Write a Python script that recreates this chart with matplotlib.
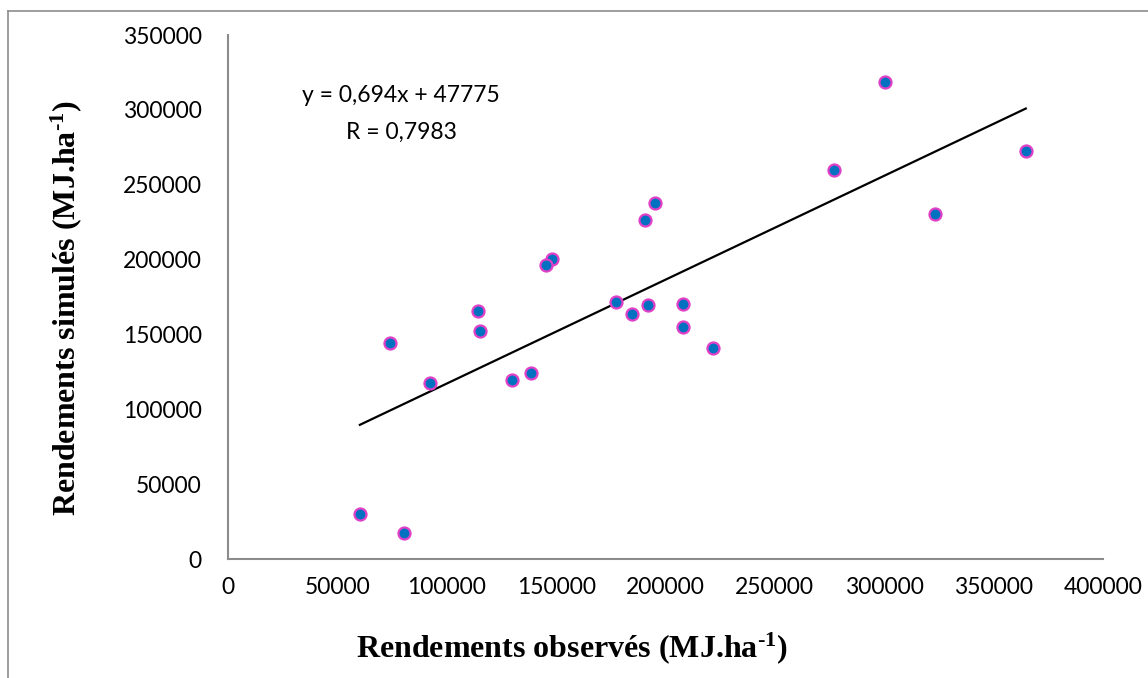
import matplotlib
matplotlib.use("Agg")
import matplotlib.pyplot as plt
from matplotlib.lines import Line2D
import numpy as np

# Data (observed vs simulated yields, MJ/ha)
observed = [60300, 80600, 92300, 74100, 114300, 115300, 148300, 145400, 195300,
            190600, 177400, 184700, 192100, 208000, 208000, 221600, 138500, 130000,
            300300, 277200, 323300, 364700]
simulated = [30300, 17400, 117400, 144500, 165400, 152300, 200200, 196600, 237800,
             226600, 171900, 163800, 169500, 170300, 155000, 141100, 124400, 119600,
             318800, 259800, 230400, 272700]
slope = 0.694
intercept = 47775
eq_text = "y = 0,694x + 47775"
r_text = "R = 0,7983"
x_ticks = [0, 50000, 100000, 150000, 200000, 250000, 300000, 350000, 400000]
y_ticks = [0, 50000, 100000, 150000, 200000, 250000, 300000, 350000]
x_label = r'Rendements observés (MJ.ha$^{\text{-}1}$)'
y_label = r'Rendements simulés (MJ.ha$^{\text{-}1}$)'

plt.rcParams['mathtext.fontset'] = 'custom'
plt.rcParams['mathtext.bf'] = 'Liberation Serif:bold'
plt.rcParams['mathtext.rm'] = 'Liberation Serif:bold'
plt.rcParams['mathtext.default'] = 'bf'

W, H = 1148, 678
fig = plt.figure(figsize=(W/100, H/100), dpi=100)
ax = fig.add_axes([228/W, 1-559/H, (1103-228)/W, (559-35)/H])

ax.scatter(observed, simulated, s=75, c='#0070C0', edgecolors='#E040C8',
           linewidths=1.6, zorder=3)
xs = np.array([min(observed), max(observed)])
ax.plot(xs, slope*xs + intercept, color='black', lw=1.6, zorder=2)

ax.set_xlim(0, 400000)
ax.set_ylim(0, 350000)
ax.set_xticks(x_ticks)
ax.set_yticks(y_ticks)
ax.set_xticklabels([str(t) for t in x_ticks], fontname='Lato', fontsize=16.5)
ax.set_yticklabels([str(t) for t in y_ticks], fontname='Lato', fontsize=16.5)
ax.tick_params(axis='both', length=0, colors='#000000')
ax.tick_params(axis='x', pad=13)
ax.tick_params(axis='y', pad=19)
for s in ['top', 'right']:
    ax.spines[s].set_visible(False)
for s in ['left', 'bottom']:
    ax.spines[s].set_color('#8c8c8c')
    ax.spines[s].set_linewidth(1.5)

fig.text(401/W, 1-96/H, eq_text, fontname='Lato', fontsize=16.5,
         ha='center', va='center')
fig.text(401/W, 1-132/H, r_text, fontname='Lato', fontsize=16.5,
         ha='center', va='center')

fig.text(572/W, 1-657/H, x_label,
         fontname='Liberation Serif', fontweight='bold', fontsize=23,
         ha='center', va='baseline')
fig.text(66/W, 1-308/H, y_label,
         fontname='Liberation Serif', fontweight='bold', fontsize=23,
         ha='center', va='center', rotation=90)

# outer chart border
fig.add_artist(Line2D([8/W, 8/W], [0, 1-11/H], transform=fig.transFigure,
                      color='#8c8c8c', lw=1.2))
fig.add_artist(Line2D([8/W, 1], [1-11/H, 1-11/H], transform=fig.transFigure,
                      color='#8c8c8c', lw=1.2))

fig.savefig('out.png', dpi=100)
